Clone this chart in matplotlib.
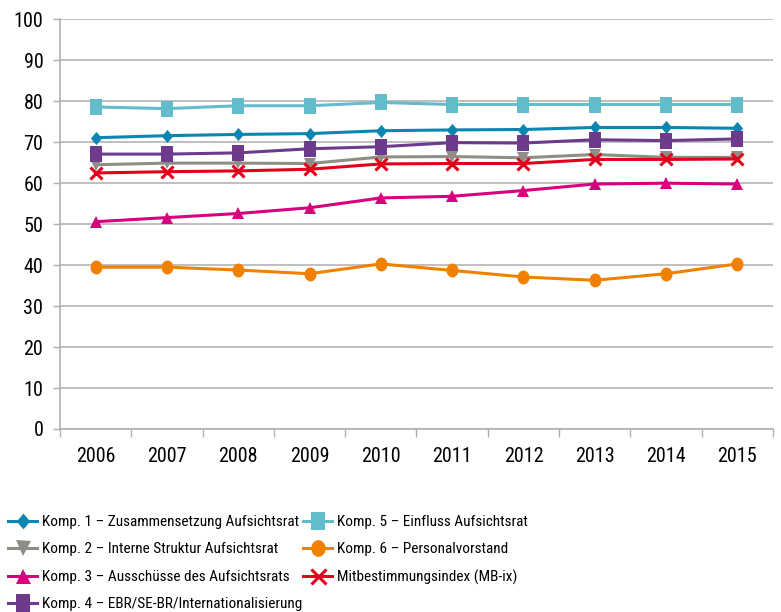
import matplotlib
matplotlib.use("Agg")
import numpy as np
import matplotlib.pyplot as plt
from matplotlib import font_manager as fm

names = {f.name for f in fm.fontManager.ttflist}
cands = ['Roboto Condensed', 'Liberation Sans Narrow', 'Roboto']
fam = [c for c in cands if c in names] + ['DejaVu Sans']
plt.rcParams['font.family'] = fam

years = ["2006", "2007", "2008", "2009", "2010", "2011", "2012", "2013", "2014", "2015"]
komp1 = [71.1, 71.6, 71.9, 72.1, 72.8, 73.0, 73.1, 73.6, 73.6, 73.4]
komp2 = [64.5, 64.9, 64.9, 64.8, 66.4, 66.5, 66.2, 67.0, 66.3, 66.3]
komp3 = [50.6, 51.6, 52.6, 54.0, 56.4, 56.8, 58.2, 59.8, 60.0, 59.8]
komp4 = [67.1, 67.1, 67.4, 68.4, 68.9, 69.9, 69.8, 70.6, 70.4, 70.8]
komp5 = [78.6, 78.2, 78.9, 78.9, 79.7, 79.2, 79.2, 79.2, 79.2, 79.2]
komp6 = [39.5, 39.5, 38.8, 37.9, 40.3, 38.7, 37.1, 36.3, 37.9, 40.3]
mbix = [62.5, 62.8, 63.0, 63.4, 64.7, 64.8, 64.8, 65.8, 65.8, 65.9]

labels = ["Komp. 1 \u2013 Zusammensetzung Aufsichtsrat",
          "Komp. 2 \u2013 Interne Struktur Aufsichtsrat",
          "Komp. 3 \u2013 Ausschüsse des Aufsichtsrats",
          "Komp. 4 \u2013 EBR/SE-BR/Internationalisierung",
          "Komp. 5 \u2013 Einfluss Aufsichtsrat",
          "Komp. 6 \u2013 Personalvorstand",
          "Mitbestimmungsindex (MB-ix)"]

# slightly tall marker shapes (reference is vertically stretched)
sq = [(-0.8, -1), (0.8, -1), (0.8, 1), (-0.8, 1), (-0.8, -1)]
dia = [(0, -1), (0.85, 0), (0, 1), (-0.85, 0), (0, -1)]
t = np.linspace(0, 2 * np.pi, 40)
ell = list(zip(0.86 * np.cos(t), np.sin(t)))

fig = plt.figure(figsize=(7.81, 6.12), dpi=100)
ax = fig.add_axes([60/781, 1-429/612, 713/781, (429-19.3)/612])

x = list(range(len(years)))
styles = [
    (komp1, "#0A86B0", dia, 9.5),
    (komp2, "#8E8E86", "v", 9),
    (komp3, "#D9007E", "^", 9),
    (komp4, "#6D3A8C", sq, 11),
    (komp5, "#63BCCB", sq, 11),
    (komp6, "#F08100", ell, 10),
    (mbix, "#E2001A", "x", 9),
]
handles = []
for (vals, col, mk, ms), lab in zip(styles, labels):
    mew = 2.2 if mk == "x" else 0
    h, = ax.plot(x, vals, color=col, lw=2.2, marker=mk, ms=ms, mew=mew,
                 mec=col, mfc=col, label=lab)
    handles.append(h)

ax.set_xlim(-0.5, len(years) - 0.5)
ax.set_ylim(0, 100)
ax.set_yticks(range(0, 101, 10))
ax.set_xticks([i - 0.5 for i in range(len(years) + 1)])
ax.set_xticklabels([])
ax.set_xticks(x, minor=True)
ax.set_xticklabels(years, minor=True)
ax.tick_params(axis='x', which='major', length=6, color='#B0B0B0', width=1)
ax.tick_params(axis='x', which='minor', length=0, pad=13, labelsize=14.5)
ax.tick_params(axis='y', length=5, color='#B0B0B0', width=1, labelsize=14.5, pad=7)
ax.grid(axis='y', color='#B4B4B4', lw=1.2)
ax.set_axisbelow(True)
for s in ['top', 'right']:
    ax.spines[s].set_visible(False)
for s in ['left', 'bottom']:
    ax.spines[s].set_color('#B0B0B0')
    ax.spines[s].set_linewidth(1.2)

leg_kw = dict(loc='upper left', frameon=False, fontsize=11, handlelength=1.9,
              handletextpad=0.35, labelspacing=0.88, borderaxespad=0,
              borderpad=0, markerscale=1.2)
leg1 = fig.legend(handles=handles[:4], bbox_to_anchor=(8/781, 1-515/612), **leg_kw)
leg2 = fig.legend(handles=handles[4:], bbox_to_anchor=(303/781, 1-515/612), **leg_kw)

fig.savefig("out.png", dpi=100)
